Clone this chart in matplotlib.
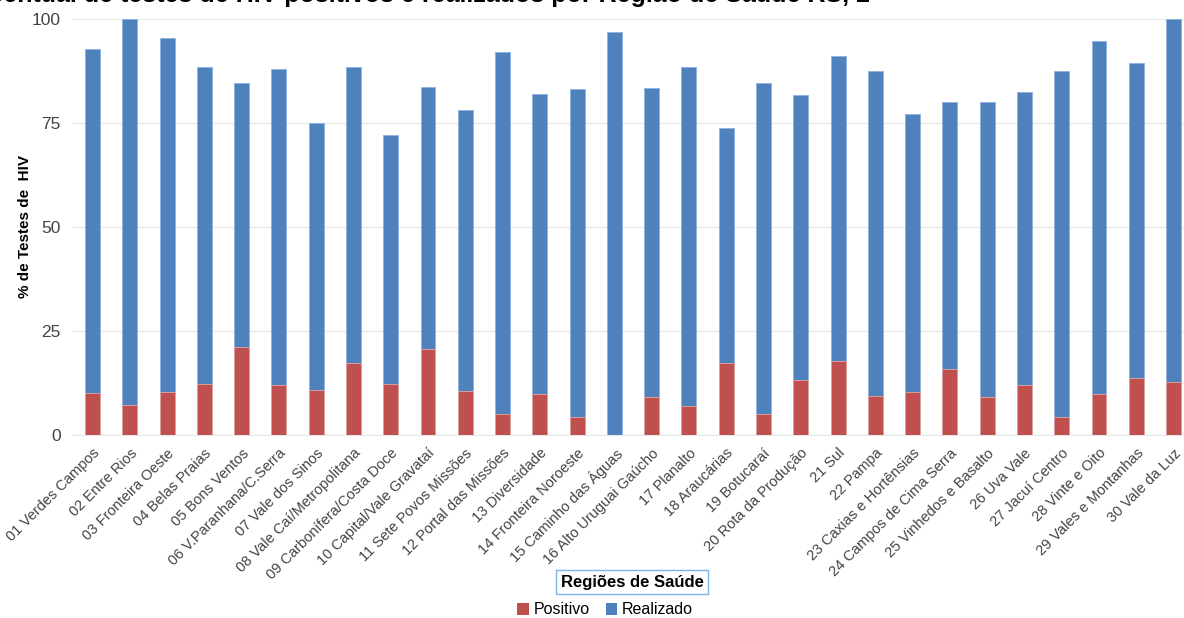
import matplotlib.pyplot as plt
from matplotlib.patches import Patch

plt.rcParams["font.family"] = ["Liberation Sans", "DejaVu Sans"]

regioes = [
    "01 Verdes Campos", "02 Entre Rios", "03 Fronteira Oeste", "04 Belas Praias",
    "05 Bons Ventos", "06 V.Paranhana/C.Serra", "07 Vale dos Sinos",
    "08 Vale Caí/Metropolitana", "09 Carbonífera/Costa Doce",
    "10 Capital/Vale Gravataí", "11 Sete Povos Missões", "12 Portal das Missões",
    "13 Diversidade", "14 Fronteira Noroeste", "15 Caminho das Águas",
    "16 Alto Uruguai Gaúcho", "17 Planalto", "18 Araucárias", "19 Botucaraí",
    "20 Rota da Produção", "21 Sul", "22 Pampa", "23 Caxias e Hortênsias",
    "24 Campos de Cima Serra", "25 Vinhedos e Basalto", "26 Uva Vale",
    "27 Jacuí Centro", "28 Vinte e Oito", "29 Vales e Montanhas", "30 Vale da Luz",
]

# % de testes realizados (altura total da barra)
realizado = [
    92.7, 100.0, 95.4, 88.5, 84.5, 87.9, 75.0, 88.5, 72.1, 83.7,
    78.1, 92.1, 82.0, 83.2, 96.9, 83.4, 88.5, 73.8, 84.6, 81.7,
    91.1, 87.5, 77.2, 80.0, 80.0, 82.5, 87.5, 94.7, 89.4, 100.0,
]

# % de testes positivos
positivo = [
    10.0, 7.2, 10.3, 12.3, 21.2, 11.9, 10.8, 17.3, 12.3, 20.7,
    10.6, 5.0, 9.9, 4.3, 0.0, 9.1, 7.0, 17.3, 5.0, 13.2,
    17.8, 9.4, 10.3, 15.9, 9.1, 12.0, 4.3, 9.9, 13.7, 12.7,
]

cor_pos = "#C0504D"
cor_real = "#4F81BD"

fig = plt.figure(figsize=(11.84, 6.18), dpi=100)
ax = fig.add_axes([72 / 1184, 183 / 618, 1 - 72 / 1184, (435 - 19) / 618])

x = list(range(len(regioes)))
ax.bar(x, realizado, width=0.4, color=cor_real, edgecolor="#8DB3E2", linewidth=0.6, zorder=2)
ax.bar(x, positivo, width=0.4, color=cor_pos, edgecolor="#E6A5A3", linewidth=0.6, zorder=3)

ax.set_xlim(-0.55, 29.28)
ax.set_ylim(0, 100)
ax.set_yticks([0, 25, 50, 75, 100])
ax.yaxis.grid(True, color="#E8E8E8", linewidth=1, zorder=0)
ax.set_axisbelow(True)
for s in ["top", "right", "left"]:
    ax.spines[s].set_visible(False)
ax.spines["bottom"].set_color("#E8E8E8")
ax.tick_params(axis="both", length=0, colors="#444444")
ax.tick_params(axis="y", labelsize=12.5, pad=8)
ax.set_xticks(x)
ax.set_xticklabels(regioes, rotation=45, ha="right", rotation_mode="anchor", fontsize=10.5)
ax.tick_params(axis="x", pad=8)

ax.set_ylabel("% de Testes de  HIV", fontsize=11, fontweight="bold")
ax.yaxis.set_label_coords(-40 / 1112, 0.5)

fig.text(632 / 1184, 1 - 582 / 618, "Regiões de Saúde", fontsize=12, fontweight="bold",
         ha="center", va="center",
         bbox=dict(boxstyle="square,pad=0.25", facecolor="white", edgecolor="#7FB2E5", linewidth=1))

fig.text(870 / 1184, 1 - 2 / 618,
         "Percentual de testes de HIV positivos e realizados por Região de Saúde RS, 2",
         fontsize=18, fontweight="bold", ha="right", va="baseline")

handles = [Patch(facecolor=cor_pos, label="Positivo"), Patch(facecolor=cor_real, label="Realizado")]
fig.legend(handles=handles, loc="center", bbox_to_anchor=(605 / 1184, 1 - 610 / 618), ncol=2,
           frameon=False, fontsize=11.5, handlelength=0.7, handleheight=0.7,
           handletextpad=0.3, columnspacing=1.0)

fig.savefig("out.png", dpi=100)
